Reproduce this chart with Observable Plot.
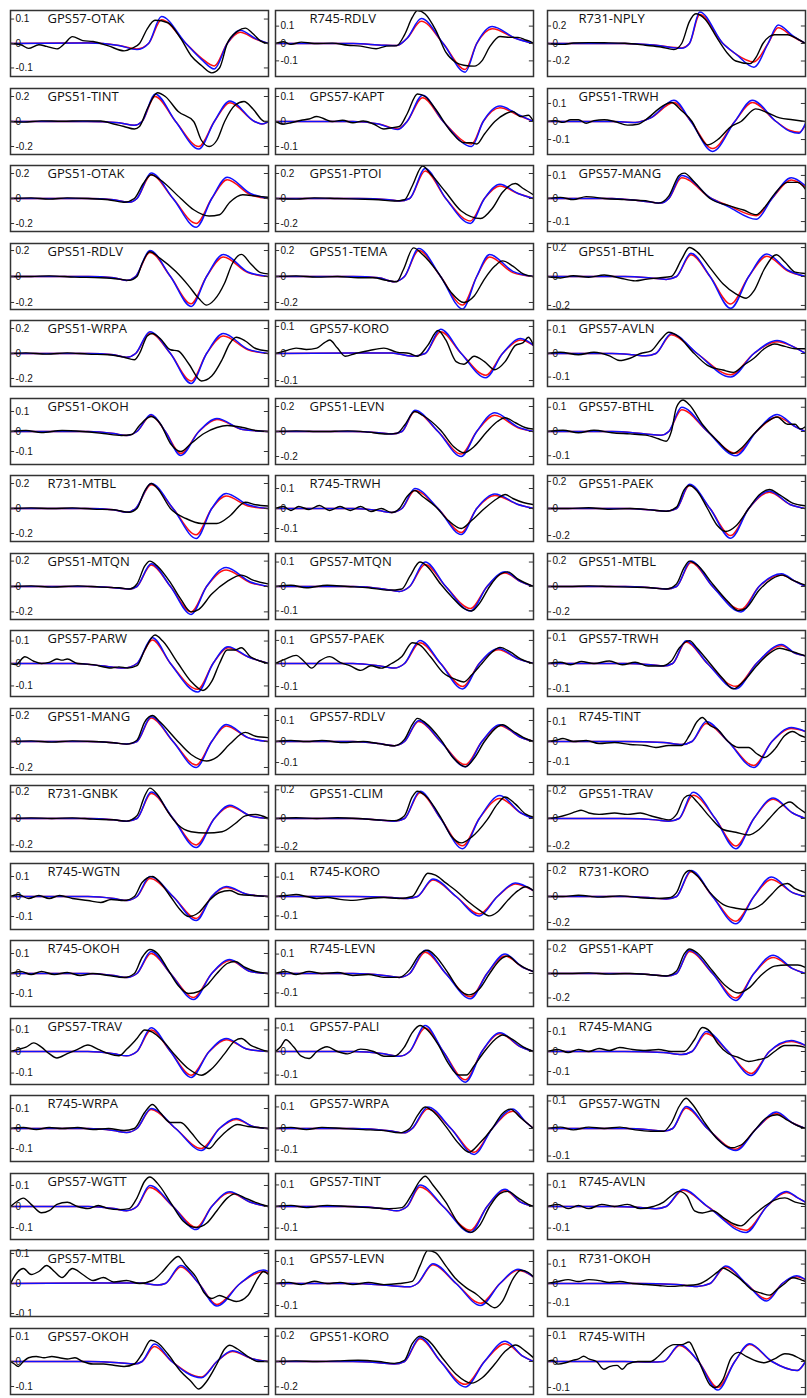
<!DOCTYPE html>
<html><head><meta charset="utf-8">
<script src="https://cdn.jsdelivr.net/npm/d3@7"></script>
<script src="https://cdn.jsdelivr.net/npm/@observablehq/plot@0.6"></script>
<style>
html,body{margin:0;padding:0;background:#fff;}
#chart{position:relative;width:807px;height:1398px;overflow:hidden;background:#fff;}
.panel{position:absolute;}
.panel svg{display:block;overflow:visible;}
</style></head><body><div id="chart"></div>
<script>
// Station / component names, row-major (3 per row)
const stations = [
  "GPS57-OTAK","R745-RDLV","R731-NPLY",
  "GPS51-TINT","GPS57-KAPT","GPS51-TRWH",
  "GPS51-OTAK","GPS51-PTOI","GPS57-MANG",
  "GPS51-RDLV","GPS51-TEMA","GPS51-BTHL",
  "GPS51-WRPA","GPS57-KORO","GPS57-AVLN",
  "GPS51-OKOH","GPS51-LEVN","GPS57-BTHL",
  "R731-MTBL","R745-TRWH","GPS51-PAEK",
  "GPS51-MTQN","GPS57-MTQN","GPS51-MTBL",
  "GPS57-PARW","GPS57-PAEK","GPS57-TRWH",
  "GPS51-MANG","GPS57-RDLV","R745-TINT",
  "R731-GNBK","GPS51-CLIM","GPS51-TRAV",
  "R745-WGTN","R745-KORO","R731-KORO",
  "R745-OKOH","R745-LEVN","GPS51-KAPT",
  "GPS57-TRAV","GPS57-PALI","R745-MANG",
  "R745-WRPA","GPS57-WRPA","GPS57-WGTN",
  "GPS57-WGTT","GPS57-TINT","R745-AVLN",
  "GPS57-MTBL","GPS57-LEVN","R731-OKOH",
  "GPS57-OKOH","GPS51-KORO","R745-WITH"
];
// y tick step of each panel
const tickStep = [
  0.1,0.1,0.2, 0.2,0.1,0.1, 0.2,0.2,0.1, 0.2,0.2,0.2, 0.2,0.1,0.1, 0.1,0.2,0.1,
  0.2,0.1,0.2, 0.2,0.1,0.2, 0.1,0.1,0.1, 0.2,0.1,0.1, 0.2,0.2,0.2, 0.1,0.1,0.2,
  0.1,0.1,0.2, 0.1,0.1,0.1, 0.1,0.1,0.1, 0.1,0.1,0.1, 0.1,0.1,0.1, 0.1,0.2,0.1
];
// half-range of y axis of each panel
const yLimit = [
  0.135,0.19,0.377, 0.264,0.132,0.183, 0.264,0.264,0.143, 0.254,0.254,0.228, 0.264,0.122,0.14, 0.165,0.264,0.136,
  0.264,0.165,0.244, 0.26,0.135,0.26, 0.147,0.143,0.13, 0.254,0.157,0.165, 0.25,0.23,0.24, 0.165,0.17,0.254,
  0.165,0.17,0.27, 0.153,0.14,0.165, 0.165,0.153,0.12, 0.157,0.153,0.153, 0.11,0.15,0.17, 0.132,0.26,0.127
];
// synthetic waveforms: [time %, red value, blue value]
const synthetic = [
 [[0,0,0],[30,0.003,0.002],[42,-0.008,-0.008],[49,-0.022,-0.025],[53.5,0,0],[58.5,0.097,0.11],[68,0,0],[74,-0.06,-0.065],[79,-0.092,-0.104],[84,0,0],[89,0.046,0.054],[95,0.018,0.02],[100,0,0]],
 [[0,0,0],[30,0,0],[42,-0.01,-0.01],[47,-0.012,-0.012],[51,0.03,0.03],[56.5,0.128,0.144],[65,0,0],[73.5,-0.15,-0.165],[78,0,0],[84,0.085,0.098],[93,0.03,0.03],[100,0,0]],
 [[0,0,0],[30,0,0],[42,-0.02,-0.02],[52,-0.05,-0.055],[55,0,0],[59,0.33,0.36],[68,0,0],[73,-0.12,-0.12],[80,-0.21,-0.27],[85.5,0,0],[89.4,0.18,0.21],[95,0.08,0.09],[100,0,0]],
 [[0,0,0],[30,0,0],[42,-0.01,-0.01],[48,-0.03,-0.03],[51,0,0],[56,0.2,0.22],[64,0,0],[73,-0.2,-0.22],[79,0,0],[85,0.15,0.165],[94.6,0,0],[97.5,-0.02,-0.02],[100,0,0]],
 [[0,0,0],[30,0,0],[40,-0.01,-0.01],[47.5,-0.03,-0.032],[51,0,0],[57,0.095,0.105],[65,0,0],[76,-0.09,-0.1],[80.5,0,0],[87,0.055,0.062],[94,0.025,0.028],[100,0,0]],
 [[0,0,0],[25,0,0],[34,-0.005,-0.005],[40,0.02,0.02],[49,0.105,0.118],[55.6,0,0],[64,-0.15,-0.166],[72.6,0,0],[79.4,0.105,0.118],[88.6,0,0],[94,-0.05,-0.055],[97.5,-0.06,-0.065],[100,-0.02,-0.01]],
 [[0,0,0],[30,0,0],[40,-0.01,-0.01],[46,-0.03,-0.03],[49,0,0],[54.5,0.19,0.205],[63,0,0],[72,-0.2,-0.23],[78,0,0],[84,0.15,0.17],[93,0.03,0.04],[100,0,0]],
 [[0,0,0],[32,0,0],[44,-0.01,-0.01],[48,-0.02,-0.02],[52,0,0],[58,0.22,0.24],[66,0,0],[75.5,-0.18,-0.2],[81,0,0],[87,0.1,0.115],[94,0.04,0.04],[100,0,0]],
 [[0,0,0],[25,0,0],[36,-0.01,-0.01],[44,-0.02,-0.02],[47,0,0],[52,0.09,0.1],[63.5,0,0],[70,-0.03,-0.035],[81,-0.075,-0.09],[87,0,0],[94.5,0.08,0.09],[100,0.05,0.055]],
 [[0,0,0],[30,0,0],[40,-0.01,-0.01],[45,-0.03,-0.03],[48.5,0,0],[54,0.185,0.2],[62,0,0],[70,-0.21,-0.23],[76,0,0],[82.5,0.15,0.17],[92,0.03,0.035],[100,0,0]],
 [[0,0,0],[30,0,0],[40,-0.01,-0.01],[46,-0.04,-0.04],[50,0,0],[55.5,0.2,0.215],[64,0,0],[72.5,-0.22,-0.25],[78,0,0],[83,0.15,0.17],[92,0.03,0.04],[100,0,0]],
 [[0,0,0],[30,0,0],[40,-0.01,-0.01],[46,-0.02,-0.02],[50,0,0],[55.6,0.15,0.16],[63,0,0],[71,-0.19,-0.22],[78,0,0],[85,0.14,0.155],[93,0.04,0.045],[100,0,0]],
 [[0,0,0],[30,0,0],[40,-0.01,-0.01],[45,-0.03,-0.03],[48.5,0,0],[54,0.165,0.175],[62,0,0],[70,-0.22,-0.24],[76,0,0],[82.5,0.14,0.16],[92,0.03,0.035],[100,0,0]],
 [[0,0,0],[30,0.002,0.002],[45,0.002,0.002],[53,-0.01,-0.01],[58,0,0],[64,0.08,0.09],[72,0,0],[81.5,-0.08,-0.09],[88,0,0],[95,0.05,0.055],[100,0.03,0.03]],
 [[0,0,0],[25,0,0],[33,-0.005,-0.005],[38,-0.01,-0.01],[42,0,0],[48,0.08,0.085],[58,0,0],[71,-0.09,-0.1],[80,0,0],[89,0.05,0.055],[95,0.03,0.03],[100,0,0]],
 [[0,0,0],[30,0,0],[40,-0.01,-0.01],[45,-0.02,-0.02],[49,0,0],[54.5,0.08,0.085],[60,0,0],[66,-0.11,-0.12],[73,0,0],[80,0.06,0.065],[90,0.01,0.01],[100,0,0]],
 [[0,0,0],[30,0,0],[40,-0.01,-0.01],[45,-0.02,-0.02],[49,0,0],[54,0.16,0.17],[63,0,0],[72,-0.18,-0.2],[78,0,0],[85,0.13,0.15],[94,0.03,0.035],[100,0,0]],
 [[0,0,0],[25,0,0],[38,-0.01,-0.01],[44,-0.015,-0.015],[47,0,0],[52,0.09,0.1],[62,0,0],[73,-0.09,-0.1],[81,0,0],[89,0.06,0.07],[96,0.02,0.02],[100,0,0]],
 [[0,0,0],[30,0,0],[40,-0.01,-0.01],[45,-0.03,-0.03],[48.5,0,0],[54.5,0.19,0.2],[63,0,0],[72,-0.21,-0.24],[78,0,0],[83.6,0.1,0.12],[92,0.02,0.03],[100,0,0]],
 [[0,0,0],[30,0,0],[40,-0.01,-0.01],[45,-0.02,-0.02],[49,0,0],[54,0.09,0.1],[63,0,0],[72,-0.12,-0.13],[78,0,0],[85,0.065,0.072],[94,0.02,0.02],[100,0,0]],
 [[0,0,0],[30,0,0],[40,-0.01,-0.01],[46,-0.02,-0.02],[50,0,0],[55,0.17,0.18],[63,0,0],[71,-0.2,-0.22],[78,0,0],[86,0.12,0.13],[94,0.03,0.03],[100,0,0]],
 [[0,0,0],[30,0,0],[40,-0.01,-0.01],[46,-0.02,-0.02],[49,0,0],[54.5,0.17,0.18],[62,0,0],[70,-0.2,-0.22],[76,0,0],[83.6,0.13,0.15],[93,0.03,0.035],[100,0,0]],
 [[0,0,0],[30,0,0],[42,-0.01,-0.01],[48,-0.02,-0.02],[52,0,0],[58,0.09,0.1],[66,0,0],[75.6,-0.09,-0.1],[82,0,0],[89,0.055,0.06],[95,0.02,0.02],[100,0,0]],
 [[0,0,0],[30,0,0],[40,-0.01,-0.01],[46,-0.02,-0.02],[50,0,0],[55.6,0.19,0.2],[64,0,0],[75,-0.18,-0.2],[82,0,0],[90.7,0.09,0.1],[96,0.04,0.04],[100,0,0]],
 [[0,0,0],[25,0,0],[35,-0.01,-0.01],[44,-0.02,-0.02],[49,0,0],[55,0.105,0.115],[62,0,0],[72.6,-0.115,-0.127],[78.5,0,0],[84.3,0.07,0.075],[92,0.03,0.03],[100,0,0]],
 [[0,0,0],[30,0,0],[40,-0.01,-0.01],[46,-0.02,-0.02],[50,0,0],[56,0.09,0.1],[64,0,0],[72.5,-0.1,-0.11],[79,0,0],[86.5,0.06,0.065],[94,0.02,0.02],[100,0,0]],
 [[0,0,0],[30,0,0],[40,-0.005,-0.005],[45,-0.01,-0.01],[48.5,0,0],[53.7,0.085,0.09],[62,0,0],[73,-0.09,-0.1],[81,0,0],[90.7,0.07,0.075],[96,0.04,0.04],[100,0.03,0.03]],
 [[0,0,0],[30,0,0],[40,-0.01,-0.01],[45,-0.02,-0.02],[49,0,0],[54.5,0.18,0.19],[63,0,0],[72,-0.18,-0.2],[78,0,0],[83.6,0.12,0.13],[92,0.03,0.03],[100,0,0]],
 [[0,0,0],[30,0,0],[40,-0.01,-0.01],[46,-0.02,-0.02],[50,0,0],[55.5,0.095,0.1],[64,0,0],[73.6,-0.11,-0.12],[80,0,0],[87,0.075,0.08],[95,0.02,0.02],[100,0,0]],
 [[0,0,0],[30,0,0],[45,-0.005,-0.005],[52,-0.015,-0.015],[56,0,0],[61.5,0.09,0.1],[70,0,0],[80,-0.12,-0.13],[87,0,0],[94.5,0.065,0.07],[100,0.05,0.05]],
 [[0,0,0],[30,0,0],[40,-0.01,-0.01],[45,-0.02,-0.02],[49,0,0],[54.5,0.19,0.2],[63,0,0],[72,-0.2,-0.22],[79,0,0],[85,0.09,0.1],[93,0.02,0.02],[100,0,0]],
 [[0,0,0],[30,0,0],[40,-0.01,-0.01],[46,-0.02,-0.02],[50,0,0],[56,0.18,0.19],[64,0,0],[72.5,-0.19,-0.21],[79,0,0],[87,0.14,0.16],[95,0.04,0.04],[100,0,0]],
 [[0,0,0],[30,0,0],[42,-0.01,-0.01],[47,-0.02,-0.02],[51,0,0],[56.4,0.17,0.19],[65,0,0],[73,-0.2,-0.22],[80,0,0],[87.5,0.14,0.15],[95,0.04,0.04],[100,0,0]],
 [[0,0,0],[30,0,0],[40,-0.01,-0.01],[45,-0.02,-0.02],[49,0,0],[54,0.09,0.1],[63,0,0],[72,-0.11,-0.12],[78,0,0],[83.6,0.045,0.05],[92,0.01,0.01],[100,0,0]],
 [[0,0,0],[30,0,0],[45,-0.005,-0.005],[51,-0.01,-0.01],[55,0,0],[61,0.085,0.09],[70,0,0],[79,-0.09,-0.1],[86,0,0],[93,0.065,0.07],[100,0.03,0.03]],
 [[0,0,0],[30,0,0],[40,-0.01,-0.01],[46,-0.02,-0.02],[50,0,0],[55.6,0.19,0.2],[64,0,0],[73,-0.19,-0.21],[80,0,0],[86.8,0.13,0.15],[95,0.03,0.03],[100,0,0]],
 [[0,0,0],[30,0,0],[40,-0.01,-0.01],[45,-0.02,-0.02],[49,0,0],[54.5,0.1,0.11],[62,0,0],[71,-0.12,-0.13],[78,0,0],[85,0.065,0.07],[93,0.01,0.01],[100,0,0]],
 [[0,0,0],[30,0,0],[42,-0.01,-0.01],[48,-0.02,-0.02],[52,0,0],[58,0.11,0.12],[66,0,0],[75.6,-0.12,-0.13],[82,0,0],[89,0.09,0.1],[96,0.03,0.03],[100,0.01,0.01]],
 [[0,0,0],[30,0,0],[40,-0.01,-0.01],[46,-0.02,-0.02],[50,0,0],[55,0.18,0.19],[64,0,0],[73,-0.2,-0.22],[80,0,0],[87.5,0.13,0.15],[95,0.04,0.04],[100,0,0]],
 [[0,0,0],[30,0,0],[40,-0.01,-0.01],[45,-0.02,-0.02],[49,0,0],[54.5,0.1,0.11],[62,0,0],[70,-0.11,-0.12],[77,0,0],[83.6,0.055,0.06],[92,0.01,0.01],[100,0,0]],
 [[0,0,0],[30,0,0],[42,-0.01,-0.01],[48,-0.02,-0.02],[52,0,0],[58,0.1,0.11],[65,0,0],[73.6,-0.12,-0.13],[80,0,0],[87,0.075,0.08],[95,0.02,0.02],[100,0,0]],
 [[0,0,0],[30,0,0],[45,-0.005,-0.005],[52,-0.015,-0.015],[56,0,0],[61.5,0.09,0.1],[70,0,0],[79,-0.11,-0.12],[86,0,0],[94.5,0.05,0.055],[100,0.03,0.03]],
 [[0,0,0],[30,0,0],[40,-0.01,-0.01],[45,-0.02,-0.02],[49,0,0],[54.5,0.095,0.1],[64,0,0],[74,-0.1,-0.11],[81,0,0],[87.5,0.045,0.05],[94,0.01,0.01],[100,0,0]],
 [[0,0,0],[30,0,0],[44,-0.01,-0.01],[50,-0.02,-0.02],[53,0,0],[59,0.09,0.1],[68,0,0],[77,-0.11,-0.12],[84,0,0],[92,0.08,0.09],[97,0.03,0.03],[100,0,0]],
 [[0,0,0],[30,0,0],[40,-0.005,-0.005],[45,-0.01,-0.01],[48.5,0,0],[53.7,0.075,0.08],[62,0,0],[73,-0.075,-0.08],[81,0,0],[88.7,0.055,0.06],[95,0.02,0.02],[100,0,0]],
 [[0,0,0],[30,0,0],[40,-0.01,-0.01],[45,-0.02,-0.02],[49,0,0],[54,0.09,0.1],[63,0,0],[72,-0.1,-0.11],[78,0,0],[85,0.065,0.07],[93,0.02,0.02],[100,0,0]],
 [[0,0,0],[30,0,0],[42,-0.01,-0.01],[47,-0.02,-0.02],[51,0,0],[56,0.09,0.1],[65,0,0],[75.6,-0.11,-0.12],[82,0,0],[89,0.075,0.08],[95,0.02,0.02],[100,0,0]],
 [[0,0,0],[25,0,0],[36,-0.005,-0.005],[42,-0.01,-0.01],[46,0,0],[52.5,0.075,0.08],[62,0,0],[77,-0.11,-0.12],[85,0,0],[92.6,0.065,0.07],[97,0.04,0.04],[100,0.02,0.02]],
 [[0,0,0],[30,0.002,0.002],[50,0.002,0.002],[57,-0.005,-0.005],[60,0,0],[66,0.055,0.06],[73,0,0],[80,-0.07,-0.075],[89,0,0],[98,0.04,0.045],[100,0.035,0.04]],
 [[0,0,0],[30,0,0],[45,-0.01,-0.01],[52,-0.015,-0.015],[55,0,0],[61,0.085,0.09],[70,0,0],[79.5,-0.09,-0.1],[87,0,0],[94,0.06,0.065],[100,0.03,0.03]],
 [[0,0,0],[35,0,0],[50,-0.005,-0.005],[58,-0.015,-0.015],[63,0,0],[69,0.085,0.09],[77,0,0],[85,-0.08,-0.09],[91,0,0],[96.5,0.035,0.04],[100,0.02,0.02]],
 [[0,0,0],[30,0,0],[42,-0.005,-0.005],[48,-0.01,-0.01],[51,0,0],[55.8,0.06,0.07],[62.5,0,0],[74,-0.062,-0.065],[80,0,0],[86,0.04,0.043],[94,0.01,0.01],[100,0,0]],
 [[0,0,0],[30,0,0],[40,-0.01,-0.01],[46,-0.02,-0.02],[50,0,0],[56,0.18,0.19],[64,0,0],[73.6,-0.18,-0.2],[81,0,0],[89,0.14,0.16],[96,0.04,0.04],[100,0,0]],
 [[0,0,0],[30,0,0],[40,-0.002,-0.002],[45,0,0],[51.2,0.062,0.064],[58.5,0,0],[66,-0.1,-0.11],[72.6,0,0],[78.3,0.065,0.068],[87,0,0],[96.8,-0.035,-0.035],[100,0,0]]
];
// observed (black) waveforms: [time %, value]
const observed = [
 [[0,0],[4,-0.005],[7,-0.02],[11,-0.005],[14,-0.012],[18,-0.022],[21,0],[24,0.028],[28,0.012],[32,0.008],[38,-0.01],[44,-0.03],[47,-0.02],[50,0],[53,0.06],[56,0.095],[61,0.085],[66,0.02],[70,-0.05],[74,-0.09],[78,-0.12],[81,-0.1],[84,0],[88,0.05],[91,0.063],[94,0.04],[97,0.01],[100,0]],
 [[0,0],[3,0.01],[6,-0.005],[10,0.008],[15,0],[22,0.002],[28,-0.01],[33,-0.015],[39,-0.03],[43,-0.015],[47,-0.012],[50,0.05],[53,0.15],[55,0.19],[58,0.17],[62,0.08],[66,-0.05],[70,-0.11],[73,-0.125],[77,-0.13],[80,-0.1],[83,-0.02],[87,0.04],[91,0.035],[94,0.035],[97,0.02],[99,0.01],[100,0]],
 [[0,0],[6,-0.01],[10,0.005],[16,0.01],[22,0.008],[30,0.003],[38,-0.02],[44,-0.04],[49,-0.07],[52,0],[55,0.25],[57.5,0.34],[61,0.28],[66,0.05],[70,-0.12],[73,-0.2],[78.5,-0.23],[81,-0.15],[83.5,0],[86,0.08],[88,0.1],[93,0.1],[97,0.05],[100,0]],
 [[0,0],[5,-0.005],[12,0.005],[20,0.002],[28,0.005],[35,0.004],[40,-0.02],[44,-0.04],[48,-0.06],[50,-0.04],[53,0.1],[57,0.23],[60,0.2],[65,0.08],[71,0],[74,-0.15],[77,-0.2],[80,-0.15],[83,0],[87,0.13],[90.5,0.16],[94,0.1],[98.5,0],[100,0]],
 [[0,0],[3,-0.01],[6,-0.005],[10,0.005],[13,0.01],[16,0.02],[19,0.01],[22,0],[26,0.005],[30,-0.005],[34,0.002],[38,-0.01],[42,-0.03],[45,-0.025],[48,-0.02],[51,0.03],[55,0.11],[58,0.1],[62,0.05],[68,-0.04],[73,-0.085],[76,-0.085],[78,-0.09],[81,-0.05],[85,0],[89,0.03],[92,0.04],[95,0.02],[98,0.025],[100,0]],
 [[0,0],[3,0.005],[6,-0.005],[9,0.01],[12,0.01],[15,-0.01],[18,0.005],[22,0.01],[26,0],[31,-0.02],[35,-0.015],[39,0.02],[44,0.08],[48,0.105],[52,0.06],[56,0],[59,-0.08],[62,-0.13],[66,-0.1],[71,-0.03],[75,0],[80.7,0.07],[85,0.05],[90,0.02],[95,0.01],[100,0]],
 [[0,0],[8,0.005],[15,-0.005],[22,0.005],[30,0],[38,-0.01],[44,-0.03],[48,0],[51.5,0.12],[54.5,0.19],[58,0.15],[66,0],[71,-0.09],[77,-0.14],[81,-0.13],[85,-0.03],[90,0.03],[95,0.02],[100,0.01]],
 [[0,0],[8,-0.005],[15,0.005],[24,0],[32,-0.005],[40,-0.01],[46,-0.02],[50,-0.01],[53,0.1],[57,0.26],[60,0.2],[66,0.05],[72,-0.1],[79.5,-0.16],[84,-0.08],[88,0.05],[93,0.12],[96,0.08],[100,0.03]],
 [[0,0],[5,0.005],[10,-0.005],[15,0.008],[22,0],[30,-0.005],[38,-0.01],[43,-0.02],[47,0.01],[51,0.1],[53,0.11],[57,0.07],[63,0],[70,-0.03],[76,-0.05],[81,-0.07],[84,-0.04],[88,0.02],[93,0.07],[97,0.07],[100,0.04]],
 [[0,0],[8,0],[15,0.005],[25,-0.005],[35,-0.01],[42,-0.02],[46,-0.03],[49,0],[51,0.1],[54,0.19],[58,0.14],[64,0.04],[69,-0.07],[73,-0.17],[76,-0.22],[79,-0.18],[83,-0.05],[86,0.1],[89.5,0.17],[93,0.1],[97,0.03],[100,0.02]],
 [[0,0],[8,0.005],[16,-0.005],[24,0],[32,-0.01],[38,-0.01],[43,-0.03],[47,-0.04],[49.5,0.05],[53.5,0.22],[57,0.17],[63,0.03],[68,-0.12],[73,-0.2],[77,-0.15],[81,-0.02],[85,0.08],[88,0.12],[92,0.08],[96,0.02],[100,0]],
 [[0,0],[5,-0.01],[10,0.005],[16,-0.005],[22,0.01],[28,-0.01],[34,-0.03],[38,-0.02],[43,-0.01],[48,0],[52,0.12],[55,0.2],[58,0.17],[63,0.06],[68,-0.05],[73,-0.12],[77,-0.15],[80,-0.1],[84,0.05],[88.7,0.15],[92,0.1],[96,0.03],[100,0.02]],
 [[0,0],[6,0.005],[14,-0.005],[22,0.005],[30,-0.005],[38,-0.01],[44,-0.03],[48,-0.05],[50,0],[53,0.14],[55,0.16],[58,0.12],[62,0.03],[65,0.02],[69,-0.08],[74,-0.22],[78,-0.18],[82,-0.05],[85,0.08],[87.5,0.13],[91,0.1],[95,0.04],[100,0.02]],
 [[0,0],[4,0.01],[8,0.02],[12,0.015],[16,0.02],[19,0.04],[21,0.05],[24,0.02],[27,-0.01],[31,0],[36,0.01],[42,0.02],[47,0.005],[52,0],[55,-0.01],[59,0.03],[63,0.085],[66,0.05],[70,-0.03],[73,-0.04],[77,-0.01],[81,-0.03],[85,-0.06],[89,-0.03],[93,0.03],[96,0.04],[98,0.06],[100,0.03]],
 [[0,0],[5,0.005],[12,-0.005],[18,0.005],[24,-0.01],[28,-0.03],[32,-0.02],[36,0],[40,0.01],[44,0.06],[47,0.09],[51,0.07],[56,0.01],[62,-0.05],[68,-0.07],[72,-0.08],[76,-0.05],[80,-0.02],[84,0.02],[88,0.04],[92,0.03],[96,0.02],[100,0.02]],
 [[0,0],[6,0.005],[12,-0.005],[20,0.005],[28,0],[36,-0.01],[43,-0.02],[47,-0.015],[50,0.03],[54.5,0.075],[58,0.04],[62,-0.06],[66,-0.1],[70,-0.06],[75,-0.01],[80,0.02],[84,0.03],[90,0.02],[95,0.005],[100,0]],
 [[0,0],[8,0.005],[18,0],[28,0.005],[36,-0.005],[43,-0.02],[47,-0.015],[50,0.05],[54,0.16],[57,0.13],[64,0.01],[69,-0.12],[73,-0.17],[77,-0.12],[82,0],[86,0.08],[89,0.11],[93,0.07],[97,0.03],[100,0.02]],
 [[0,0],[6,0.005],[12,-0.005],[18,0.005],[25,-0.005],[32,-0.01],[38,-0.015],[43,-0.03],[46,-0.04],[48,0],[50,0.1],[52.5,0.13],[55,0.11],[60,0.03],[66,-0.04],[72,-0.09],[75,-0.07],[80,-0.01],[85,0.04],[89,0.06],[93,0.03],[96,0.03],[98,0.01],[100,0.02]],
 [[0,0],[8,0.005],[16,0],[24,0.005],[32,-0.005],[40,-0.01],[46,-0.03],[49,0],[52,0.14],[54.5,0.2],[57,0.16],[62,0],[68,-0.08],[74,-0.12],[80,-0.12],[85,-0.06],[91,0.05],[95,0.03],[100,0.02]],
 [[0,0],[3,0.01],[6,-0.01],[9,0.01],[13,-0.005],[17,0.015],[21,-0.01],[25,0.01],[29,-0.01],[33,0.01],[37,-0.015],[41,0],[45,-0.02],[48,0],[51,0.06],[54,0.09],[57,0.06],[62,0.01],[67,-0.06],[72,-0.1],[76,-0.06],[81,0],[86,0.05],[89,0.07],[92,0.05],[96,0.03],[100,0.02]],
 [[0,0],[8,0],[16,0.005],[24,-0.005],[32,0],[40,-0.01],[46,-0.02],[50,0.01],[53,0.14],[55,0.17],[58,0.13],[62,0],[66,-0.13],[69,-0.17],[73,-0.13],[78,0],[82,0.1],[86,0.14],[90,0.1],[95,0.04],[100,0.02]],
 [[0,0],[8,0.005],[16,-0.005],[26,0.005],[35,-0.005],[42,-0.01],[46,-0.02],[49,0.02],[52,0.16],[54,0.2],[57,0.16],[62,0.03],[66,-0.1],[70,-0.2],[73,-0.18],[78,-0.06],[84,0.04],[89.5,0.09],[94,0.05],[100,0.02]],
 [[0,0],[6,0.005],[12,-0.005],[20,0.005],[28,0],[36,-0.005],[44,-0.015],[49,-0.01],[52,0.04],[56,0.1],[59,0.08],[64,0.01],[69,-0.05],[73,-0.09],[76,-0.1],[79,-0.07],[83,0],[87,0.05],[90,0.06],[94,0.03],[100,0]],
 [[0,0],[8,0],[16,0.005],[24,0],[32,-0.005],[40,-0.01],[46,-0.02],[50,0.02],[53,0.15],[55,0.2],[58,0.17],[64,0.02],[70,-0.12],[74,-0.19],[77,-0.17],[82,-0.03],[87,0.06],[91,0.09],[95,0.05],[100,0.01]],
 [[0,0],[2,-0.005],[5.6,0.03],[9,0.01],[12,0],[15,0.005],[18,0.02],[20,0.015],[22,0.02],[26,0],[32,-0.005],[39,-0.02],[42,-0.015],[45.5,-0.02],[49,-0.01],[52,0.06],[56,0.127],[59,0.1],[65,0],[70,-0.08],[74.6,-0.12],[78,-0.08],[81,0],[84,0.06],[87,0.06],[89.5,0.07],[93,0.03],[97,0.01],[100,0]],
 [[0,0],[4,0.02],[8,0.035],[11,0.01],[14,-0.02],[17,0.01],[21,0.03],[25,0.005],[29,-0.01],[33,-0.03],[37,-0.01],[41,-0.02],[45,0],[49,0.03],[53,0.09],[56,0.08],[60,0.03],[65,-0.04],[70,-0.07],[73,-0.08],[76,-0.05],[80,0],[84,0.05],[87,0.07],[91,0.05],[95,0.02],[100,0]],
 [[0,0],[5,0.005],[9,-0.005],[13,0.008],[18,0],[24,0.01],[29,-0.005],[34,0.005],[39,-0.01],[44,-0.01],[48,0.01],[51,0.06],[55,0.09],[58,0.06],[63,0],[68,-0.06],[72,-0.1],[76,-0.07],[81,-0.01],[86,0.04],[90,0.06],[94,0.05],[97,0.04],[100,0.03]],
 [[0,0],[8,0.005],[16,-0.005],[24,0.005],[32,0],[40,-0.01],[45,-0.02],[49,0.01],[52,0.15],[55,0.2],[58,0.15],[64,0.02],[70,-0.1],[76,-0.15],[80,-0.12],[85,-0.02],[91,0.07],[95,0.04],[100,0.03]],
 [[0,0],[6,0.005],[12,0],[18,0.005],[26,-0.005],[34,0],[40,-0.01],[46,-0.02],[50,0.01],[53,0.08],[55,0.11],[58,0.09],[64,0.01],[69,-0.08],[73.6,-0.12],[77,-0.08],[81,0],[86,0.07],[88,0.08],[92,0.05],[96,0.02],[100,0]],
 [[0,0],[3,0.005],[6,0.015],[10,0],[15,0.005],[20,-0.01],[26,-0.005],[32,-0.015],[38,-0.02],[42,-0.03],[47,-0.02],[52,-0.02],[55,0.03],[58,0.1],[60,0.12],[63,0.08],[66,0.06],[70,0],[74,-0.03],[78,-0.03],[81,-0.06],[84,-0.08],[88,-0.04],[92,0.03],[95,0.05],[98,0.03],[100,0.02]],
 [[0,0],[8,0.005],[16,0],[24,0.005],[32,-0.005],[40,-0.01],[45,-0.02],[49,0.02],[52,0.17],[54,0.23],[57,0.18],[61,0.05],[65,-0.05],[70,-0.1],[76,-0.11],[82,-0.1],[87,-0.04],[91,0.02],[95,0.03],[100,0]],
 [[0,0],[8,0.005],[16,0],[24,0.005],[32,0],[40,-0.01],[46,-0.015],[50,0.02],[53,0.15],[55,0.19],[58,0.16],[64,0.01],[68,-0.12],[72,-0.17],[76,-0.13],[82,-0.01],[86,0.1],[89,0.15],[93,0.1],[97,0.03],[100,0.01]],
 [[0,0],[4,0.01],[8,0.03],[11,0.05],[13,0.06],[16,0.04],[20,0.03],[26,0.04],[31,0.03],[36,0.04],[40,0.02],[44,0],[47,-0.01],[50,0.03],[53,0.15],[55,0.17],[58,0.12],[63,0.01],[68,-0.08],[73,-0.1],[78,-0.12],[82,-0.08],[86,0],[90,0.08],[94,0.12],[97,0.08],[100,0.04]],
 [[0,0],[3,0.01],[7,-0.01],[11,0.005],[15,-0.01],[19,0.005],[24,-0.01],[30,-0.02],[35,-0.03],[39,-0.015],[44,-0.02],[48,0],[51,0.07],[55,0.1],[58,0.07],[62,0],[66,-0.07],[69,-0.1],[73,-0.08],[77,-0.02],[81,0.02],[85,0.03],[89,0.01],[94,0.005],[100,0]],
 [[0,0],[4,0.005],[8,0.01],[12,0],[16,-0.01],[20,-0.005],[25,-0.015],[30,-0.02],[36,-0.01],[42,-0.005],[48,-0.01],[53,0],[56,0.06],[59,0.12],[62,0.11],[66,0.07],[70,0.03],[75,-0.03],[79,-0.07],[83,-0.1],[86,-0.08],[90,-0.02],[94,0.03],[97,0.05],[100,0.03]],
 [[0,0],[6,0],[12,0.01],[20,-0.005],[28,0.005],[36,-0.01],[42,-0.015],[47,-0.01],[50,0.03],[53,0.17],[55,0.2],[58,0.16],[63,0.03],[68,-0.06],[73,-0.09],[78,-0.1],[83,-0.06],[87,0.02],[90,0.08],[93,0.1],[96,0.06],[100,0.03]],
 [[0,0],[4,0.01],[8,-0.005],[12,0.01],[17,-0.005],[22,0.005],[27,-0.01],[32,0],[38,-0.01],[44,-0.02],[48,0],[51,0.08],[54,0.12],[57,0.1],[61,0.02],[65,-0.06],[69,-0.1],[73,-0.09],[76,-0.06],[80,0],[84,0.05],[87,0.06],[91,0.03],[95,0.01],[100,0]],
 [[0,0],[4,0.01],[8,-0.005],[13,0.01],[18,0],[24,0.005],[30,-0.01],[36,-0.005],[42,-0.02],[48,-0.02],[52,0.02],[56,0.1],[59,0.12],[62,0.09],[67,0],[71,-0.08],[75,-0.11],[79,-0.08],[83,0],[87,0.07],[90,0.09],[94,0.05],[98,0.02],[100,0.01]],
 [[0,0],[8,0],[16,0.005],[24,-0.005],[32,0],[40,-0.01],[46,-0.02],[50,0.02],[53,0.16],[55,0.2],[58,0.17],[64,0.02],[69,-0.1],[74,-0.16],[78,-0.12],[83,-0.01],[88,0.06],[93,0.07],[97,0.07],[100,0.05]],
 [[0,0],[3,0.01],[6,0.02],[9,0.04],[12,0.02],[15,-0.01],[18,-0.03],[22,-0.01],[26,0.01],[30,0.03],[34,0.01],[38,-0.01],[42,-0.02],[45,0.01],[49,0.06],[52,0.1],[55,0.09],[59,0.05],[64,-0.02],[69,-0.08],[74,-0.11],[78,-0.08],[83,-0.01],[87,0.05],[89.5,0.06],[93,0.03],[97,0.01],[100,0]],
 [[0,0],[2,0.02],[4,0.05],[7,0.02],[10,-0.02],[13,-0.03],[16,0],[20,0.02],[24,0],[28,-0.01],[33,0.01],[38,0],[42,-0.02],[46,-0.02],[50,0.02],[53,0.08],[56,0.11],[59,0.09],[63,0.03],[67,-0.05],[71,-0.1],[74,-0.1],[77,-0.06],[81,0],[85,0.05],[88,0.07],[92,0.05],[96,0.02],[100,0]],
 [[0,0],[4,0.01],[8,-0.005],[12,0.01],[16,0],[20,0.015],[24,0.005],[28,0.02],[33,0.01],[38,0.005],[43,0.01],[48,0],[53,0],[57,0.06],[60,0.12],[63,0.1],[66,0.04],[70,-0.01],[74,-0.03],[78,-0.05],[82,-0.04],[85,-0.03],[88,0],[92,0.03],[96,0.03],[100,0.02]],
 [[0,0],[5,0.005],[10,-0.005],[15,0.005],[20,0],[26,0.005],[32,-0.005],[38,0],[44,-0.01],[48,0],[52,0.08],[55,0.12],[58,0.08],[62,0.03],[66,0.03],[70,-0.02],[74,-0.08],[77,-0.1],[80,-0.06],[84,-0.01],[88,0.02],[92,0.01],[96,0.005],[100,0]],
 [[0,0],[6,0.005],[12,-0.005],[18,0.005],[26,0],[34,-0.005],[42,-0.01],[48,-0.02],[52,0],[55,0.06],[58,0.1],[61,0.08],[66,0.01],[71,-0.07],[75,-0.11],[79,-0.07],[84,0],[88,0.07],[91,0.09],[95,0.05],[100,0]],
 [[0,0],[5,0.005],[10,-0.005],[16,0.005],[22,0],[28,0.005],[34,-0.005],[40,-0.01],[45,-0.01],[48,0.02],[51,0.08],[53.7,0.11],[56,0.09],[61,0.02],[66,-0.04],[71,-0.07],[75,-0.06],[80,-0.01],[85,0.04],[89,0.05],[93,0.03],[97,0.01],[100,0]],
 [[0,0],[2,0.02],[5,0.04],[8,0.01],[12,-0.03],[15,-0.02],[18,0.01],[22,0.02],[26,0],[30,-0.01],[34,0.005],[38,-0.01],[42,-0.015],[46,-0.01],[49,0.04],[52,0.12],[54,0.14],[57,0.11],[62,0.02],[67,-0.07],[72,-0.1],[76,-0.08],[80,-0.02],[84,0.04],[87,0.06],[91,0.04],[95,0.02],[100,0]],
 [[0,0],[6,0.005],[12,-0.005],[20,0.005],[28,0],[36,-0.005],[44,-0.01],[49,-0.005],[53,0.06],[56,0.12],[58,0.14],[61,0.1],[66,0.02],[71,-0.08],[76,-0.12],[79,-0.09],[83,0],[87,0.06],[90,0.07],[94,0.04],[98,0.01],[100,0]],
 [[0,0],[4,0.01],[8,-0.01],[12,0.005],[16,-0.01],[21,0.01],[26,0],[31,0.01],[36,-0.01],[41,0],[45,0.02],[48,0.05],[51,0.07],[54,0.05],[57,-0.02],[60,-0.03],[64,-0.02],[68,-0.05],[72,-0.08],[75,-0.09],[79,-0.05],[84,0],[88,0.03],[92,0.04],[96,0.02],[100,0.01]],
 [[0,0],[2,0.03],[5,0.05],[8,0.03],[11,0.04],[14,0.06],[17,0.04],[20,0.02],[24,0.05],[28,0.03],[32,0.01],[36,0.02],[40,0.005],[45,0.01],[50,0],[55,0.01],[59,0.04],[62,0.07],[65,0.09],[68,0.06],[72,0.02],[75,-0.03],[78,-0.05],[81,-0.04],[84,-0.05],[87.5,-0.06],[92,-0.04],[96,0.02],[98,0.04],[100,0.03]],
 [[0,0],[5,0.005],[10,-0.005],[15,0.01],[20,0],[25,0.005],[30,-0.005],[36,0.005],[42,-0.005],[48,0],[53,0.01],[56,0.08],[59,0.15],[62,0.14],[66,0.08],[70,0.02],[74,-0.02],[78,-0.05],[82,-0.09],[85,-0.11],[88,-0.08],[92,0.02],[95,0.06],[98,0.05],[100,0.03]],
 [[0,0],[4,0.01],[8,0.02],[12,0.01],[16,0.02],[20,0.015],[24,0.005],[28,0.01],[33,0],[38,-0.005],[43,-0.01],[48,-0.015],[53,-0.01],[58,-0.005],[62,0.02],[66,0.06],[68,0.08],[71,0.06],[75,0.02],[79,-0.03],[83,-0.05],[86,-0.06],[89,-0.03],[92,0],[95,0.03],[98,0.02],[100,0.01]],
 [[0,0],[1.5,-0.01],[3,-0.02],[5,0],[7,0.015],[10,0.02],[13,0.015],[16,0.02],[19,0.015],[22,0.01],[25,0.015],[28,0],[32,-0.01],[36,-0.01],[40,-0.015],[44,-0.02],[48,-0.01],[51,0.03],[54.4,0.085],[57,0.075],[61,0.03],[66,-0.04],[70,-0.08],[73,-0.11],[76,-0.08],[80,-0.01],[83,0.05],[85,0.065],[88,0.05],[92,0.02],[96,0],[100,0]],
 [[0,0],[8,0.005],[16,0],[24,0.005],[32,0.01],[40,0],[46,-0.015],[50,0.01],[53,0.14],[56,0.2],[59,0.17],[65,0.02],[70,-0.1],[76,-0.17],[80,-0.13],[85,-0.02],[89,0.08],[93,0.13],[97,0.08],[100,0.03]],
 [[0,0],[2,0.005],[4,-0.01],[7,-0.005],[10,0.005],[12,0.01],[14,0.02],[16,0.01],[19,0],[21.8,-0.03],[24,-0.02],[27,-0.015],[29,-0.03],[31,-0.01],[35,0],[40,0],[43,0.02],[46,0.05],[49,0.065],[52,0.065],[54.9,0.075],[57,0.04],[60,-0.03],[63,-0.09],[65,-0.1],[68,-0.07],[71,0.01],[74,0.035],[77,0.02],[80,0.005],[84,-0.005],[88,0.01],[92,0.03],[95,0.025],[98,0.01],[100,0]]
];

const colLeft = [10, 275, 547];
const titleDx = [37, 34, 31];
const chart = document.getElementById("chart");
const W = 258, H = 66;

stations.forEach((name, i) => {
  const row = Math.floor(i / 3), col = i % 3;
  const lim = yLimit[i], step = tickStep[i];
  const ticks = [step, 0, -step];
  const syn = synthetic[i].map(([t, r, b]) => ({t, r, b}));
  const obs = observed[i].map(([t, v]) => ({t, v}));
  const lineOpts = {x: "t", curve: "monotone-x", strokeWidth: 1.5, clip: true};
  const svg = Plot.plot({
    width: W + 2, height: H + 2,
    marginTop: 1, marginBottom: 1, marginLeft: 1, marginRight: 1,
    x: {domain: [0, 100], axis: null},
    y: {domain: [-lim, lim], axis: null},
    marks: [
      Plot.line(syn, {...lineOpts, y: "r", stroke: "#ff1010"}),
      Plot.line(syn, {...lineOpts, y: "b", stroke: "#1010ff"}),
      Plot.line(obs, {...lineOpts, y: "v", stroke: "#000", strokeWidth: 1.4}),
      Plot.ruleY(ticks, {y: d => d, x1: 0, x2: 1.6, stroke: "#333", strokeWidth: 1}),
      Plot.ruleY(ticks, {y: d => d, x1: 98.4, x2: 100, stroke: "#333", strokeWidth: 1}),
      Plot.text(ticks, {x: 0, y: d => d, text: d => String(d), dx: 5, textAnchor: "start",
        fontSize: 10, fontFamily: "Liberation Sans, Arial, sans-serif", fill: "#111", letterSpacing: "1px"}),
      Plot.text([name], {frameAnchor: "top-left", text: d => d, dx: titleDx[col], dy: 3,
        lineAnchor: "top", textAnchor: "start", fontSize: 13, fontFamily: "Open Sans, sans-serif", fill: "#111"}),
      Plot.frame({stroke: "#333", strokeWidth: 1.5})
    ]
  });
  const div = document.createElement("div");
  div.className = "panel";
  div.style.left = (colLeft[col] - 1) + "px";
  div.style.top = (Math.round(10 + row * 77.5) - 1) + "px";
  div.appendChild(svg);
  chart.appendChild(div);
});
</script></body></html>
